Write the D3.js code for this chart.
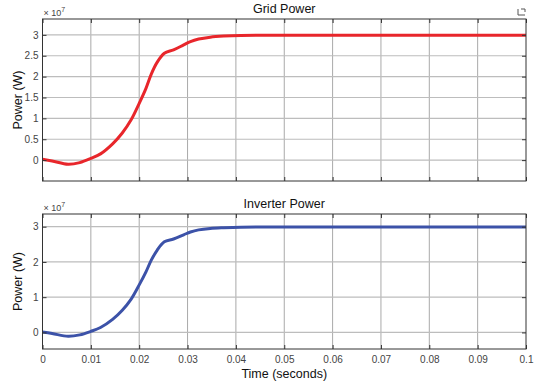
<!DOCTYPE html>
<html>
<head>
<meta charset="utf-8">
<script src="https://cdn.jsdelivr.net/npm/d3@7"></script>
<style>
  html, body { margin: 0; padding: 0; background: #fff; }
  svg { display: block; font-family: "Liberation Sans", Arial, sans-serif; }
</style>
</head>
<body>
<svg id="chart" width="544" height="387"></svg>
<script>
// Simulation time samples (seconds)
const timeSamples = [0, 0.002, 0.0053, 0.0077, 0.01, 0.012, 0.0145, 0.0165, 0.0183, 0.02,
  0.0214, 0.0225, 0.0237, 0.0252, 0.0271, 0.0292, 0.0306, 0.0323, 0.0347, 0.0375,
  0.041, 0.05, 0.06, 0.07, 0.08, 0.09, 0.1];

// Power in units of 1e7 W
const gridPower = [0.02, -0.02, -0.1, -0.06, 0.04, 0.15, 0.39, 0.65, 0.96, 1.36,
  1.72, 2.06, 2.34, 2.56, 2.64, 2.76, 2.84, 2.90, 2.945, 2.97,
  2.985, 2.99, 2.99, 2.99, 2.99, 2.99, 2.99];
const inverterPower = [0.01, -0.03, -0.11, -0.07, 0.03, 0.14, 0.37, 0.63, 0.94, 1.35,
  1.72, 2.05, 2.33, 2.57, 2.65, 2.77, 2.85, 2.91, 2.95, 2.97,
  2.985, 2.99, 2.99, 2.99, 2.99, 2.99, 2.99];

const timeTicks = [0, 0.01, 0.02, 0.03, 0.04, 0.05, 0.06, 0.07, 0.08, 0.09, 0.1];
const timeTickLabels = ["0", "0.01", "0.02", "0.03", "0.04", "0.05", "0.06", "0.07", "0.08", "0.09", "0.1"];
const gridTicks = [0, 0.5, 1, 1.5, 2, 2.5, 3];
const gridTickLabels = ["0", "0.5", "1", "1.5", "2", "2.5", "3"];
const inverterTicks = [0, 1, 2, 3];
const inverterTickLabels = ["0", "1", "2", "3"];

const svg = d3.select("#chart");
const left = 42.5, right = 526;

const x = d3.scaleLinear().domain([0, 0.1]).range([left, right]);

const panels = [
  { title: "Grid Power", values: gridPower, color: "#e8262b", top: 19, bottom: 181,
    domain: [-0.5, 3.38], ticks: gridTicks, labels: gridTickLabels, xLabels: false },
  { title: "Inverter Power", values: inverterPower, color: "#3c52a8", top: 214, bottom: 349,
    domain: [-0.47, 3.36], ticks: inverterTicks, labels: inverterTickLabels, xLabels: true }
];

panels.forEach(p => {
  const y = d3.scaleLinear().domain(p.domain).range([p.bottom, p.top]);
  const g = svg.append("g");

  // grid lines
  g.append("g").selectAll("line").data(timeTicks.slice(1, -1)).join("line")
    .attr("x1", d => x(d)).attr("x2", d => x(d))
    .attr("y1", p.top).attr("y2", p.bottom)
    .attr("stroke", "#a9a9a9").attr("stroke-width", 1);
  g.append("g").selectAll("line").data(p.ticks).join("line")
    .attr("x1", left).attr("x2", right)
    .attr("y1", d => y(d)).attr("y2", d => y(d))
    .attr("stroke", "#bdbdbd").attr("stroke-width", 1.2);

  // data line
  const line = d3.line()
    .x((d, i) => x(timeSamples[i]))
    .y(d => y(d))
    .curve(d3.curveCatmullRom.alpha(0.5));
  g.append("path").datum(p.values)
    .attr("d", line)
    .attr("fill", "none")
    .attr("stroke", p.color)
    .attr("stroke-width", 3)
    .attr("stroke-linejoin", "round");

  // axes (ticks inward, box on all sides)
  const tickStyle = sel => {
    sel.select(".domain").remove();
    sel.selectAll(".tick line").attr("stroke", "#333");
    sel.selectAll(".tick text").attr("fill", "#444").attr("font-size", "10px")
      .attr("font-family", "Liberation Sans, Arial, sans-serif");
  };
  g.append("g").attr("transform", `translate(${left},0)`)
    .call(d3.axisLeft(y).tickValues(p.ticks).tickFormat((d, i) => p.labels[i]).tickSizeInner(-4).tickPadding(4))
    .call(tickStyle);
  g.append("g").attr("transform", `translate(${right},0)`)
    .call(d3.axisRight(y).tickValues(p.ticks).tickSizeInner(-4).tickFormat(""))
    .call(tickStyle);
  g.append("g").attr("transform", `translate(0,${p.bottom})`)
    .call(d3.axisBottom(x).tickValues(timeTicks)
      .tickFormat(p.xLabels ? ((d, i) => timeTickLabels[i]) : "")
      .tickSizeInner(-4).tickPadding(7))
    .call(tickStyle);
  g.append("g").attr("transform", `translate(0,${p.top})`)
    .call(d3.axisTop(x).tickValues(timeTicks).tickSizeInner(-4).tickFormat(""))
    .call(tickStyle);

  g.append("rect")
    .attr("x", left).attr("y", p.top)
    .attr("width", right - left).attr("height", p.bottom - p.top)
    .attr("fill", "none").attr("stroke", "#333").attr("stroke-width", 1);

  // title
  g.append("text")
    .attr("x", (left + right) / 2).attr("y", p.top - 6)
    .attr("text-anchor", "middle").attr("font-size", "12.5px").attr("fill", "#111")
    .text(p.title);

  // exponent
  const ex = g.append("text")
    .attr("x", left + 1).attr("y", p.top - 3)
    .attr("font-size", "9px").attr("fill", "#444");
  ex.append("tspan").text("\u00d7 10");
  ex.append("tspan").attr("dy", -4).attr("font-size", "7px").text("7");

  // y label
  g.append("text")
    .attr("transform", `translate(22,${(p.top + p.bottom) / 2}) rotate(-90)`)
    .attr("text-anchor", "middle").attr("font-size", "12.5px").attr("fill", "#111")
    .text("Power (W)");
});

// x label
svg.append("text")
  .attr("x", (left + right) / 2).attr("y", 378)
  .attr("text-anchor", "middle").attr("font-size", "12.5px").attr("fill", "#111")
  .text("Time (seconds)");

// small undock glyph in the corner
svg.append("path")
  .attr("d", "M518,9 V15 H525 M521,9 H525 V12")
  .attr("fill", "none").attr("stroke", "#555").attr("stroke-width", 1);
</script>
</body>
</html>
